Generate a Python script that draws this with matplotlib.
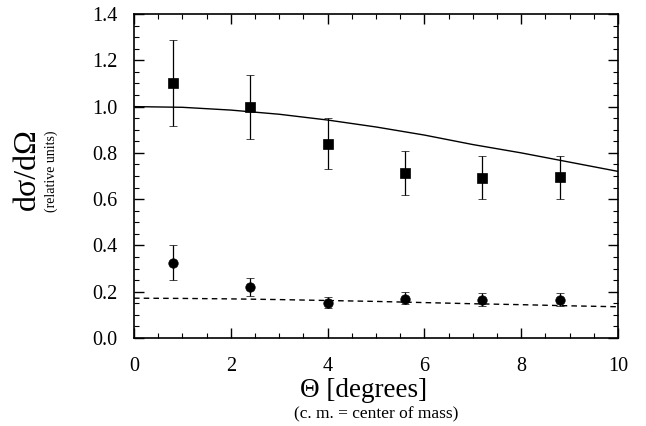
import matplotlib
matplotlib.use("Agg")
import matplotlib.pyplot as plt
from matplotlib.ticker import MultipleLocator

# Data
theta = [0.8, 2.4, 4.0, 5.6, 7.2, 8.8]
sq_y = [1.10, 1.00, 0.84, 0.715, 0.69, 0.695]
sq_lo = [0.915, 0.86, 0.73, 0.62, 0.60, 0.60]
sq_hi = [1.29, 1.135, 0.95, 0.81, 0.785, 0.785]
ci_y = [0.325, 0.22, 0.15, 0.17, 0.165, 0.165]
ci_lo = [0.25, 0.18, 0.13, 0.145, 0.14, 0.14]
ci_hi = [0.40, 0.26, 0.175, 0.20, 0.195, 0.195]
curve_x = [0, 1, 2, 3, 4, 5, 6, 7, 8, 9, 10]
solid_y = [1.0, 0.997, 0.985, 0.967, 0.942, 0.912, 0.877, 0.836, 0.800, 0.760, 0.720]
dash_y = [0.172, 0.171, 0.169, 0.166, 0.162, 0.158, 0.153, 0.148, 0.144, 0.139, 0.135]
xticks = [0, 2, 4, 6, 8, 10]
yticks = [0.0, 0.2, 0.4, 0.6, 0.8, 1.0, 1.2, 1.4]

plt.rcParams['font.family'] = ['Liberation Serif', 'DejaVu Serif']

fig = plt.figure(figsize=(6.46, 4.26), dpi=100)
ax = fig.add_axes([0.2074, 0.2066, 0.7493, 0.7604])

ax.plot(curve_x, solid_y, color='black', lw=1.0)
ax.plot(curve_x, dash_y, color='black', lw=1.0, ls=(0, (4, 3)))

yerr_sq = [[y - l for y, l in zip(sq_y, sq_lo)], [h - y for y, h in zip(sq_y, sq_hi)]]
yerr_ci = [[y - l for y, l in zip(ci_y, ci_lo)], [h - y for y, h in zip(ci_y, ci_hi)]]
ax.errorbar(theta, sq_y, yerr=yerr_sq, fmt='s', color='black', ms=6.8, mew=0.5,
            elinewidth=0.9, capsize=3, capthick=0.9)
ax.errorbar(theta, ci_y, yerr=yerr_ci, fmt='o', color='black', ms=6.8, mew=0.5,
            elinewidth=0.9, capsize=3, capthick=0.9)

ax.set_xlim(0, 10)
ax.set_ylim(0, 1.4)
ax.set_xticks(xticks)
ax.set_yticks(yticks)
ax.set_xticklabels([str(t) for t in xticks])
ax.set_yticklabels([f"{t:.1f}" for t in yticks])
ax.xaxis.set_minor_locator(MultipleLocator(0.5))
ax.yaxis.set_minor_locator(MultipleLocator(0.05))
ax.tick_params(which='both', direction='in', top=True, right=True, labelsize=14.5)
ax.tick_params(which='major', length=7, width=1)
ax.tick_params(which='minor', length=3.5, width=0.8)
ax.tick_params(axis='x', pad=14)
ax.tick_params(axis='y', pad=12)
for s in ax.spines.values():
    s.set_linewidth(1.2)

fig.text(0.043, 0.603, 'dσ/dΩ', rotation=90, fontsize=23, ha='center', va='center')
fig.text(0.080, 0.597, '(relative units)', rotation=90, fontsize=10, ha='center', va='center')
fig.text(0.5627, 0.0845, 'Θ [degrees]', fontsize=19.5, ha='center', va='center')
fig.text(0.583, 0.028, '(c. m. = center of mass)', fontsize=12.5, ha='center', va='center')

fig.savefig('out.png', dpi=100)
